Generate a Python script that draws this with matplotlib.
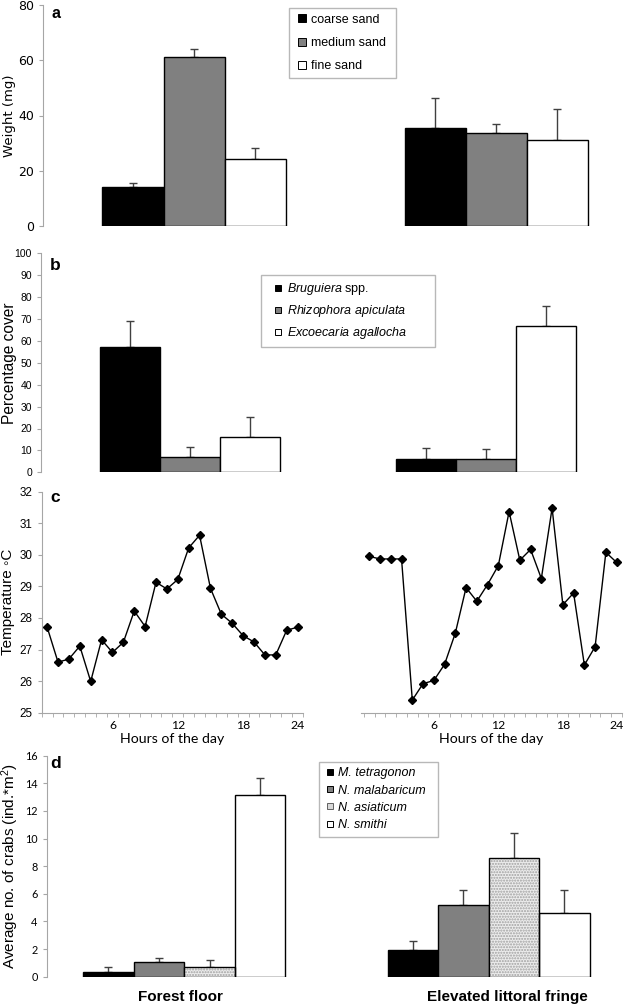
import numpy as np
import matplotlib
matplotlib.use("Agg")
import matplotlib.pyplot as plt
from matplotlib.lines import Line2D

plt.rcParams['font.family'] = ['Liberation Sans', 'DejaVu Sans']
plt.rcParams['mathtext.fontset'] = 'custom'
plt.rcParams['mathtext.rm'] = 'Liberation Sans'
plt.rcParams['mathtext.it'] = 'Liberation Sans:italic'
plt.rcParams['mathtext.bf'] = 'Liberation Sans:bold'

# ---------------- data ----------------
# (a) sediment weight
sand_labels = ["coarse sand", "medium sand", "fine sand"]
sand_means_site1 = [14.0, 61.3, 24.2]
sand_err_site1 = [1.6, 2.7, 3.9]
sand_means_site2 = [35.4, 33.6, 31.0]
sand_err_site2 = [11.1, 3.5, 11.4]

# (b) vegetation cover
tree_labels = [r"$\it{Bruguiera}$ spp.", r"$\it{Rhizophora\ apiculata}$", r"$\it{Excoecaria\ agallocha}$"]
cover_site1 = [57.3, 7.0, 16.3]
cover_err_site1 = [11.9, 4.7, 9.1]
cover_site2 = [6.2, 6.2, 66.8]
cover_err_site2 = [4.8, 4.3, 9.3]

# (c) temperature
hours = list(range(24))
temp_site1 = [27.71, 26.60, 26.70, 27.11, 25.99, 27.31, 26.91, 27.23, 28.22, 27.73,
              29.13, 28.92, 29.22, 30.22, 30.62, 28.94, 28.12, 27.83, 27.44, 27.24,
              26.83, 26.83, 27.61, 27.71]
temp_site2 = [29.95, 29.87, 29.87, 29.87, 25.40, 25.92, 26.02, 26.53, 27.52, 28.96,
              28.53, 29.06, 29.66, 31.37, 29.83, 30.17, 29.25, 31.48, 28.42, 28.79,
              26.51, 27.09, 30.08, 29.76]
hour_tick_pos = [6, 12, 18, 23]
hour_tick_labels = ["6", "12", "18", "24"]

# (d) crabs
crab_labels = ["M. tetragonon", "N. malabaricum", "N. asiaticum", "N. smithi"]
habitats = ["Forest floor", "Elevated littoral fringe"]
crabs_forest = [0.36, 1.09, 0.68, 13.16]
crabs_forest_err = [0.31, 0.29, 0.54, 1.21]
crabs_fringe = [1.93, 5.20, 8.58, 4.59]
crabs_fringe_err = [0.68, 1.08, 1.81, 1.69]

# ---------------- figure ----------------
W, H = 625, 1006
fig = plt.figure(figsize=(W / 100, H / 100), dpi=100)

def ax_px(x0, y_top, x1, y_bot):
    return fig.add_axes([x0 / W, 1 - y_bot / H, (x1 - x0) / W, (y_bot - y_top) / H])

GRAY = '#a6a6a6'
ERRC = '#404040'
EDGE_LW = 1.0

def style_left_only(ax):
    for s in ['top', 'right', 'bottom']:
        ax.spines[s].set_visible(False)
    ax.spines['left'].set_color(GRAY)
    ax.tick_params(axis='y', colors=GRAY, length=3, width=0.8, direction='out')
    ax.tick_params(axis='x', bottom=False, labelbottom=False)
    for lab in ax.get_yticklabels():
        lab.set_color('black')

def upper_err(ax, x, y, e):
    ax.errorbar(x, y, yerr=[np.zeros(len(e)), e], fmt='none', ecolor=ERRC,
                elinewidth=1, capsize=2.6, capthick=1, zorder=1)

def sq(fc, ms, ec='black'):
    return Line2D([], [], linestyle='none', marker='s', markersize=ms, markerfacecolor=fc,
                  markeredgecolor=ec, markeredgewidth=0.7)

def ylabel_right_edge(ax, px_right, ax_left_px, ax_w_px):
    ax.yaxis.set_label_coords((px_right - ax_left_px) / ax_w_px, 0.5)

# ---------- panel a ----------
axa = ax_px(43, 5, 625, 226)
axa.set_xlim(-0.5, 1.427)
axa.set_ylim(0, 80)
wa = 0.202
cols3 = ['black', '#808080', 'white']
for gi, (m, e) in enumerate([(sand_means_site1, sand_err_site1), (sand_means_site2, sand_err_site2)]):
    xs = gi + (np.arange(3) - 1) * wa
    upper_err(axa, xs, m, e)
    axa.bar(xs, m, width=wa, color=cols3, edgecolor='black', linewidth=EDGE_LW, zorder=2)
axa.set_yticks([0, 20, 40, 60, 80])
style_left_only(axa)
for lab in axa.get_yticklabels():
    lab.set_fontfamily('DejaVu Sans')
    lab.set_fontsize(9)
axa.set_ylabel("Weight (mg)", fontfamily='DejaVu Sans', fontsize=9.5)
ylabel_right_edge(axa, 16, 43, 582)
axa.text(8 / 582, 1 - 9 / 221, "a", transform=axa.transAxes, fontsize=11.5, fontweight='bold', va='center')
ha = [sq(c, 5.2) for c in cols3]
leg = fig.legend(ha, sand_labels, loc='upper left', bbox_to_anchor=(289 / W, 1 - 8 / H - 0.01, 107 / W, 0.01),
                 mode='expand', fontsize=9, frameon=True, fancybox=False, edgecolor=GRAY,
                 handlelength=1.2, handletextpad=0.1, labelspacing=0.9,
                 borderpad=0.45, borderaxespad=0)
leg.get_frame().set_linewidth(1)

# ---------- panel b ----------
axb = ax_px(41, 253.3, 625, 472.3)
axb.set_xlim(-0.503, 1.47)
axb.set_ylim(0, 100)
wb = 0.202
for gi, (m, e) in enumerate([(cover_site1, cover_err_site1), (cover_site2, cover_err_site2)]):
    xs = gi + (np.arange(3) - 1) * wb
    upper_err(axb, xs, m, e)
    axb.bar(xs, m, width=wb, color=cols3, edgecolor='black', linewidth=EDGE_LW, zorder=2)
axb.set_yticks(np.arange(0, 101, 10))
style_left_only(axb)
for lab in axb.get_yticklabels():
    lab.set_fontsize(7.5)
axb.set_ylabel("Percentage cover", fontsize=11.2)
ylabel_right_edge(axb, 17, 41, 584)
axb.text(9 / 584, 1 - 11.7 / 219, "b", transform=axb.transAxes, fontsize=12.5, fontweight='bold', va='center')
hb = [sq(c, 5.0) for c in cols3]
leg = fig.legend(hb, tree_labels, loc='upper left', bbox_to_anchor=(261 / W, 1 - 275.3 / H - 0.01, 174 / W, 0.01),
                 mode='expand', fontsize=9, frameon=True, fancybox=False, edgecolor=GRAY,
                 handlelength=1.82, handletextpad=-0.19, labelspacing=0.5,
                 borderpad=0.45, borderaxespad=0)
leg.get_frame().set_linewidth(1)

# ---------- panel c ----------
def style_c(ax, left=True):
    ax.spines['top'].set_visible(False)
    ax.spines['right'].set_visible(False)
    ax.spines['bottom'].set_color(GRAY)
    if left:
        ax.spines['left'].set_color(GRAY)
        ax.tick_params(axis='y', colors=GRAY, labelcolor='black', length=3, labelsize=8.4)
        ax.set_yticks(np.arange(25, 33, 1))
    else:
        ax.spines['left'].set_visible(False)
        ax.tick_params(axis='y', left=False, labelleft=False)
    ax.set_xticks(hour_tick_pos)
    ax.set_xticklabels(hour_tick_labels, fontfamily='Lato', fontsize=8.8)
    ax.set_xticks(np.arange(-0.5, 24, 1), minor=True)
    ax.tick_params(axis='x', which='major', length=0, pad=5)
    ax.tick_params(axis='x', which='minor', length=3, color=GRAY)
    ax.set_ylim(25, 32)
    ax.set_xlabel("Hours of the day", fontfamily='Lato', fontsize=10.2, labelpad=2)

axc1 = ax_px(41.7, 491.7, 303, 712.7)
axc1.plot(hours, temp_site1, color='black', lw=1, marker='D', ms=4.3, zorder=3, clip_on=False)
axc1.set_xlim(-0.5, 23.5)
style_c(axc1, True)
axc1.set_ylabel("Temperature ◦C", fontsize=11)
ylabel_right_edge(axc1, 15, 41.7, 261.3)
axc1.text(8.3 / 261.3, 1 - 6.3 / 221, "c", transform=axc1.transAxes, fontsize=12.5, fontweight='bold', va='center')

axc2 = ax_px(361, 491.7, 622, 712.7)
axc2.plot(hours, temp_site2, color='black', lw=1, marker='D', ms=4.3, zorder=3, clip_on=False)
axc2.set_xlim(-0.77, 23.5)
style_c(axc2, False)

# ---------- panel d ----------
axd = ax_px(46.7, 755.7, 625, 976.7)
axd.set_xlim(-0.452, 1.448)
axd.set_ylim(0, 16)
wd = 0.166
cols4 = ['black', '#808080', '#ececec', 'white']
for gi, (m, e) in enumerate([(crabs_forest, crabs_forest_err), (crabs_fringe, crabs_fringe_err)]):
    xs = gi + (np.arange(4) - 1.5) * wd
    upper_err(axd, xs, m, e)
    for i in range(4):
        if i == 2:
            axd.bar(xs[i], m[i], width=wd, color=cols4[i], edgecolor='#a0a0a0', hatch='......',
                    linewidth=0, zorder=2)
            axd.bar(xs[i], m[i], width=wd, fill=False, edgecolor='black', linewidth=EDGE_LW, zorder=2.1)
        else:
            axd.bar(xs[i], m[i], width=wd, color=cols4[i], edgecolor='black', linewidth=EDGE_LW, zorder=2)
axd.set_yticks(np.arange(0, 17, 2))
style_left_only(axd)
for lab in axd.get_yticklabels():
    lab.set_fontfamily('Lato')
    lab.set_fontsize(7.8)
axd.set_ylabel(r"Average no. of crabs (ind.*m$^{2}$)", fontsize=11)
ylabel_right_edge(axd, 21, 46.7, 578.3)
axd.text(3.3 / 578.3, 1 - 8.3 / 221, "d", transform=axd.transAxes, fontsize=12.5, fontweight='bold', va='center')
group_label_dx = [-0.013, 0.06]
for gi, name in enumerate(habitats):
    axd.text(gi + group_label_dx[gi], -1.5, name, ha='center', va='center', fontsize=11,
             fontweight='bold')
hd = [sq('black', 4.6), sq('#808080', 4.6),
      Line2D([], [], linestyle='none', marker='s', markersize=4.6, markerfacecolor='#d8d8d8',
             markeredgecolor='#606060', markeredgewidth=0.7),
      sq('white', 4.6)]
leg = fig.legend(hd, crab_labels, loc='upper left', bbox_to_anchor=(319 / W, 1 - 761.7 / H - 0.01, 119 / W, 0.01),
                 mode='expand', frameon=True, fancybox=False, edgecolor=GRAY,
                 prop={'style': 'italic', 'size': 9},
                 handlelength=0.9, handletextpad=0.15, labelspacing=0.42,
                 borderpad=0.45, borderaxespad=0)
leg.get_frame().set_linewidth(1)

fig.savefig("out.png", dpi=100)
